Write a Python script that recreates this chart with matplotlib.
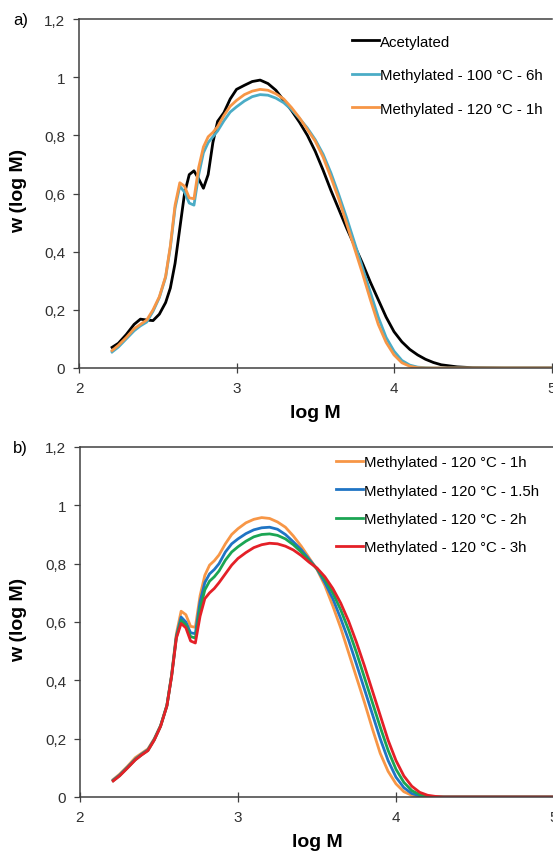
import matplotlib
matplotlib.use("Agg")
import matplotlib.pyplot as plt

plt.rcParams["font.family"] = ["Liberation Sans", "DejaVu Sans"]

LOG_M = [2.21, 2.25, 2.30, 2.35, 2.39, 2.43, 2.47, 2.51, 2.55, 2.58,
         2.61, 2.64, 2.67, 2.70, 2.73, 2.76, 2.79, 2.82, 2.85, 2.88,
         2.92, 2.96, 3.00, 3.05, 3.10, 3.15, 3.20, 3.25, 3.30, 3.35,
         3.40, 3.45, 3.50, 3.55, 3.60, 3.65, 3.70, 3.75, 3.80, 3.85,
         3.90, 3.95, 4.00, 4.05, 4.10, 4.15, 4.20, 4.25, 4.30, 4.40,
         4.50, 4.70, 5.00]

acetylated = [0.071, 0.085, 0.115, 0.150, 0.168, 0.165, 0.163, 0.185, 0.225, 0.275,
              0.360, 0.480, 0.600, 0.665, 0.678, 0.650, 0.618, 0.665, 0.775, 0.848,
              0.878, 0.925, 0.958, 0.972, 0.985, 0.990, 0.978, 0.955, 0.920, 0.885,
              0.845, 0.800, 0.745, 0.680, 0.610, 0.545, 0.480, 0.420, 0.360, 0.295,
              0.235, 0.175, 0.125, 0.090, 0.064, 0.045, 0.030, 0.019, 0.011, 0.004,
              0.001, 0.0, 0.0]

meth_100_6h = [0.055, 0.072, 0.100, 0.128, 0.145, 0.158, 0.195, 0.242, 0.312, 0.415,
               0.550, 0.625, 0.605, 0.567, 0.560, 0.665, 0.740, 0.775, 0.795, 0.815,
               0.850, 0.880, 0.898, 0.918, 0.933, 0.940, 0.938, 0.928, 0.912, 0.888,
               0.858, 0.825, 0.785, 0.735, 0.670, 0.595, 0.515, 0.430, 0.345, 0.260,
               0.175, 0.105, 0.058, 0.026, 0.010, 0.003, 0.001, 0.0, 0.0, 0.0,
               0.0, 0.0, 0.0]

meth_120_1h = [0.060, 0.078, 0.105, 0.135, 0.150, 0.165, 0.200, 0.245, 0.315, 0.420,
               0.560, 0.637, 0.625, 0.585, 0.582, 0.690, 0.760, 0.795, 0.810, 0.830,
               0.868, 0.900, 0.920, 0.940, 0.952, 0.958, 0.955, 0.943, 0.925, 0.895,
               0.860, 0.820, 0.780, 0.725, 0.655, 0.580, 0.495, 0.410, 0.325, 0.235,
               0.150, 0.088, 0.045, 0.018, 0.006, 0.001, 0.0, 0.0, 0.0, 0.0,
               0.0, 0.0, 0.0]

meth_120_15h = [0.058, 0.075, 0.102, 0.130, 0.147, 0.162, 0.198, 0.244, 0.314, 0.418,
                0.552, 0.617, 0.600, 0.563, 0.560, 0.670, 0.735, 0.765, 0.780, 0.800,
                0.840, 0.868, 0.885, 0.903, 0.916, 0.923, 0.925, 0.918, 0.900, 0.875,
                0.848, 0.815, 0.782, 0.735, 0.680, 0.612, 0.538, 0.455, 0.370, 0.285,
                0.200, 0.125, 0.068, 0.032, 0.012, 0.004, 0.001, 0.0, 0.0, 0.0,
                0.0, 0.0, 0.0]

meth_120_2h = [0.056, 0.073, 0.100, 0.128, 0.145, 0.160, 0.196, 0.243, 0.313, 0.416,
               0.548, 0.605, 0.590, 0.550, 0.545, 0.645, 0.710, 0.740, 0.755, 0.775,
               0.812, 0.840, 0.858, 0.877, 0.892, 0.900, 0.902, 0.897, 0.885, 0.865,
               0.840, 0.810, 0.783, 0.745, 0.700, 0.642, 0.573, 0.495, 0.410, 0.325,
               0.240, 0.160, 0.095, 0.050, 0.022, 0.008, 0.002, 0.0, 0.0, 0.0,
               0.0, 0.0, 0.0]

meth_120_3h = [0.055, 0.072, 0.099, 0.127, 0.144, 0.159, 0.195, 0.242, 0.312, 0.414,
               0.545, 0.595, 0.580, 0.535, 0.528, 0.620, 0.680, 0.700, 0.715, 0.735,
               0.765, 0.795, 0.818, 0.838, 0.855, 0.865, 0.870, 0.868, 0.860, 0.847,
               0.828, 0.805, 0.785, 0.755, 0.715, 0.665, 0.603, 0.530, 0.450, 0.365,
               0.280, 0.195, 0.125, 0.072, 0.037, 0.016, 0.006, 0.002, 0.0, 0.0,
               0.0, 0.0, 0.0]

X_TICKS = [2, 3, 4, 5]
Y_TICKS = [0, 0.2, 0.4, 0.6, 0.8, 1.0, 1.2]
Y_TICK_LABELS = ["0", "0,2", "0,4", "0,6", "0,8", "1", "1,2"]

ORANGE = "#F79646"
CYAN = "#4BACC6"
BLUE = "#1F74C4"
GREEN = "#1BA553"
RED = "#E42027"
GREY = "#404040"

W, H = 553, 853


def style_axes(ax):
    ax.set_xlim(2, 5)
    ax.set_ylim(0, 1.2)
    ax.set_xticks(X_TICKS)
    ax.set_yticks(Y_TICKS)
    ax.set_yticklabels(Y_TICK_LABELS)
    ax.spines["right"].set_visible(False)
    for side in ["left", "top", "bottom"]:
        ax.spines[side].set_color(GREY)
        ax.spines[side].set_linewidth(1.1)
    ax.tick_params(axis="x", direction="inout", length=7, width=0.9,
                   colors=GREY, labelsize=11, pad=6)
    ax.tick_params(axis="y", direction="out", length=4, width=0.9,
                   colors=GREY, labelsize=11, pad=6)
    for lbl in ax.get_xticklabels() + ax.get_yticklabels():
        lbl.set_color("#303030")
    ax.set_xlabel("log M", fontsize=14, fontweight="bold", labelpad=6)


def main():
    fig = plt.figure(figsize=(W / 100, H / 100), dpi=100)

    ax1 = fig.add_axes([79 / W, 1 - 369 / H, 472.5 / W, 349 / H])
    ax1.plot(LOG_M, acetylated, color="black", lw=2.0, label="Acetylated")
    ax1.plot(LOG_M, meth_100_6h, color=CYAN, lw=2.0, label="Methylated - 100 °C - 6h")
    ax1.plot(LOG_M, meth_120_1h, color=ORANGE, lw=2.0, label="Methylated - 120 °C - 1h")
    style_axes(ax1)
    ax1.legend(loc="upper left", bbox_to_anchor=(0.577, 0.955), frameon=False,
               fontsize=10.8, handlelength=1.8, handletextpad=0.1,
               labelspacing=1.3, borderpad=0, borderaxespad=0)

    ax2 = fig.add_axes([80 / W, 1 - 798 / H, 474 / W, 350 / H])
    ax2.plot(LOG_M, meth_120_1h, color=ORANGE, lw=2.0, label="Methylated - 120 °C - 1h")
    ax2.plot(LOG_M, meth_120_15h, color=BLUE, lw=2.0, label="Methylated - 120 °C - 1.5h")
    ax2.plot(LOG_M, meth_120_2h, color=GREEN, lw=2.0, label="Methylated - 120 °C - 2h")
    ax2.plot(LOG_M, meth_120_3h, color=RED, lw=2.0, label="Methylated - 120 °C - 3h")
    style_axes(ax2)
    ax2.legend(loc="upper left", bbox_to_anchor=(0.540, 0.976), frameon=False,
               fontsize=10.8, handlelength=1.8, handletextpad=0.1,
               labelspacing=0.95, borderpad=0, borderaxespad=0)

    for top, bottom, tag in [(20, 369, "a)"), (448, 798, "b)")]:
        fig.text(19 / W, 1 - (top + (bottom - top) * 0.49) / H, "w (log M)",
                 rotation=90, ha="center", va="center",
                 fontsize=14, fontweight="bold", color="black")
        fig.text(13 / W, 1 - (top + 1) / H, tag, ha="left", va="center",
                 fontsize=12, color="black")

    fig.savefig("out.png", dpi=100)


if __name__ == "__main__":
    main()
